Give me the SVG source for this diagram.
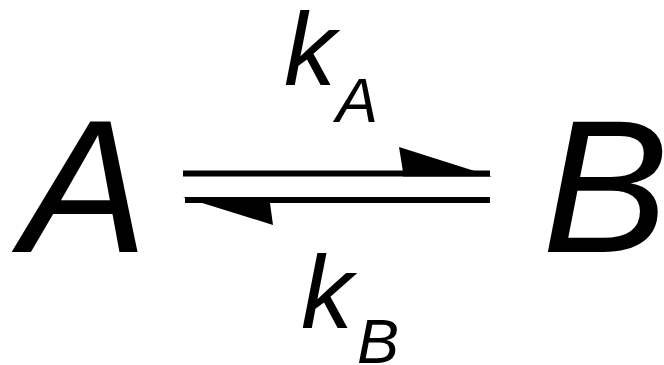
<svg xmlns="http://www.w3.org/2000/svg" width="664" height="365" viewBox="0 0 664 365">
<style>
text{font-family:"Liberation Sans",Arial,sans-serif;font-style:italic;fill:#000}
.big{font-size:190px}
.k{font-size:104px}
.sub{font-size:63px}
.ln{stroke:#000;stroke-width:6;fill:none}
</style>
<rect width="664" height="365" fill="#fff"/>
<g id="nodeA"><text class="big" x="21" y="252">A</text></g>
<g id="nodeB"><text class="big" x="542" y="252">B</text></g>
<g id="connectors">
<line class="ln" x1="183" y1="173.5" x2="490" y2="173.5"/>
<polygon points="399,147 492,176.5 403,176.5 403,172"/>
<line class="ln" x1="185" y1="200" x2="490" y2="200"/>
<polygon points="183,197 273,225 270,203 270,197"/>
</g>
<g id="labelKA"><text class="k" x="284" y="85">k</text><text class="sub" x="336" y="122">A</text></g>
<g id="labelKB"><text class="k" x="301" y="328">k</text><text class="sub" x="357" y="363">B</text></g>
</svg>
